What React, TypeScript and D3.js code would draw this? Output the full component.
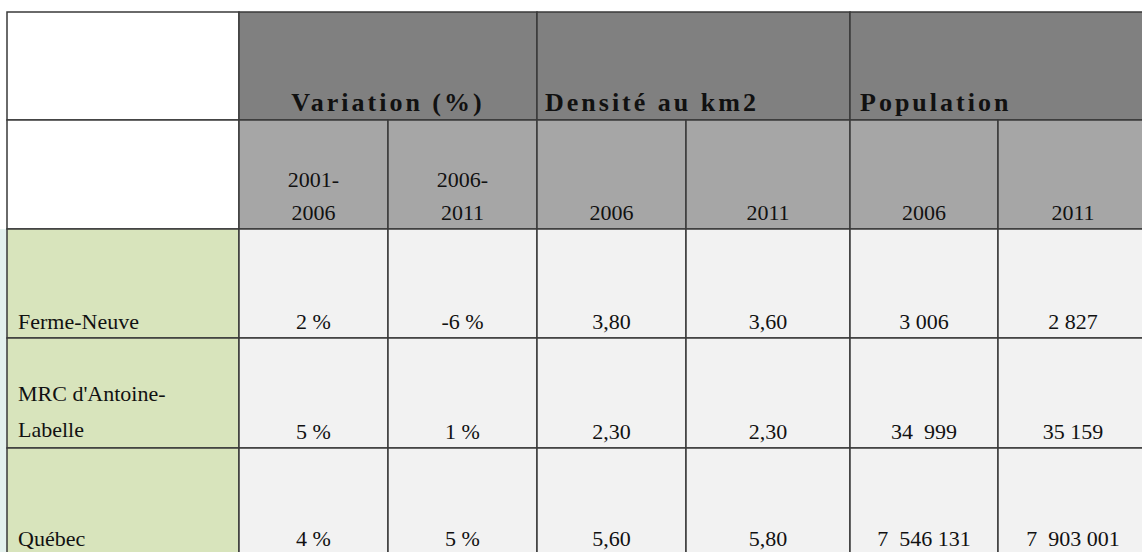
import { FC, useEffect, useRef } from "react";
import * as d3 from "d3";

// data
const groups = ["Variation (%)", "Densité au km2", "Population"];
const subHeaders = [["2001-", "2006"], ["2006-", "2011"], ["2006"], ["2011"], ["2006"], ["2011"]];
const places = [["Ferme-Neuve"], ["MRC d'Antoine-", "Labelle"], ["Québec"]];
const variation0106 = ["2 %", "5 %", "4 %"];
const variation0611 = ["-6 %", "1 %", "5 %"];
const density2006 = ["3,80", "2,30", "5,60"];
const density2011 = ["3,60", "2,30", "5,80"];
const population2006 = ["3 006", "34  999", "7  546 131"];
const population2011 = ["2 827", "35 159", "7  903 001"];

// layout
const width = 1142;
const height = 552;
const colWidths = [232, 149, 149, 149, 164, 148, 150];
const rowHeights = [108, 109, 109, 110, 110];
const left = 7;
const top = 12;
const font = "'Liberation Serif', 'Times New Roman', serif";

const App: FC = () => {
    const svgRef = useRef<SVGSVGElement>(null);

    useEffect(() => {
        if (!svgRef.current) return;
        const svg = d3.select(svgRef.current);
        svg.selectAll("*").remove();

        const colEdges = [left, ...Array.from(d3.cumsum(colWidths), (d) => left + d)];
        const rowEdges = [top, ...Array.from(d3.cumsum(rowHeights), (d) => top + d)];
        const x = (i: number) => colEdges[i];
        const y = (i: number) => rowEdges[i];

        // faint background tint on the left
        svg.append("rect")
            .attr("x", 0).attr("y", y(2))
            .attr("width", left).attr("height", height - y(2))
            .attr("fill", "#e4f1ee");

        const cell = (c0: number, c1: number, r: number, fill: string) =>
            svg.append("rect")
                .attr("x", x(c0)).attr("y", y(r))
                .attr("width", x(c1) - x(c0)).attr("height", y(r + 1) - y(r))
                .attr("fill", fill)
                .attr("stroke", "#3a3a3a")
                .attr("stroke-width", 1.5);

        // header row 1
        cell(0, 1, 0, "#ffffff");
        const groupSpans = [[1, 3], [3, 5], [5, 7]];
        groupSpans.forEach(([a, b]) => cell(a, b, 0, "#808080"));
        // header row 2
        cell(0, 1, 1, "#ffffff");
        subHeaders.forEach((_, i) => cell(i + 1, i + 2, 1, "#a6a6a6"));
        // body
        const columns = [variation0106, variation0611, density2006, density2011, population2006, population2011];
        places.forEach((_, r) => {
            cell(0, 1, r + 2, "#d8e4bc");
            columns.forEach((_, c) => cell(c + 1, c + 2, r + 2, "#f2f2f2"));
        });

        const text = (
            tx: number, ty: number, s: string, anchor: string,
            opts: { bold?: boolean; ls?: number; size?: number } = {}
        ) =>
            svg.append("text")
                .attr("x", tx).attr("y", ty)
                .attr("text-anchor", anchor)
                .attr("font-family", font)
                .attr("font-size", opts.size ?? 22)
                .attr("font-weight", opts.bold ? "bold" : "normal")
                .attr("letter-spacing", opts.ls ?? 0)
                .attr("fill", "#111")
                .style("white-space", "pre")
                .text(s);

        // group headers
        const hdr = { bold: true, ls: 3, size: 26 };
        text((x(1) + x(3)) / 2, y(1) - 9, groups[0], "middle", hdr);
        text(x(3) + 8, y(1) - 9, groups[1], "start", hdr);
        text(x(5) + 10, y(1) - 9, groups[2], "start", hdr);

        // sub headers
        subHeaders.forEach((lines, i) => {
            const cx = (x(i + 1) + x(i + 2)) / 2;
            lines.forEach((s, k) => {
                text(cx, y(2) - 9 - (lines.length - 1 - k) * 33, s, "middle");
            });
        });

        // body text
        places.forEach((lines, r) => {
            const base = Math.min(y(r + 3), height) - (r === 2 ? 6 : 9);
            lines.forEach((s, k) => {
                text(x(0) + 11, base - (lines.length - 1 - k) * 36 - (lines.length > 1 ? 2 : 0), s, "start");
            });
            columns.forEach((col, c) => {
                text((x(c + 1) + x(c + 2)) / 2, base, col[r], "middle");
            });
        });
    }, []);

    return (
        <svg
            ref={svgRef}
            width={width}
            height={height}
            style={{ position: "absolute", left: 0, top: 0, background: "#ffffff" }}
        />
    );
};

export default App;
